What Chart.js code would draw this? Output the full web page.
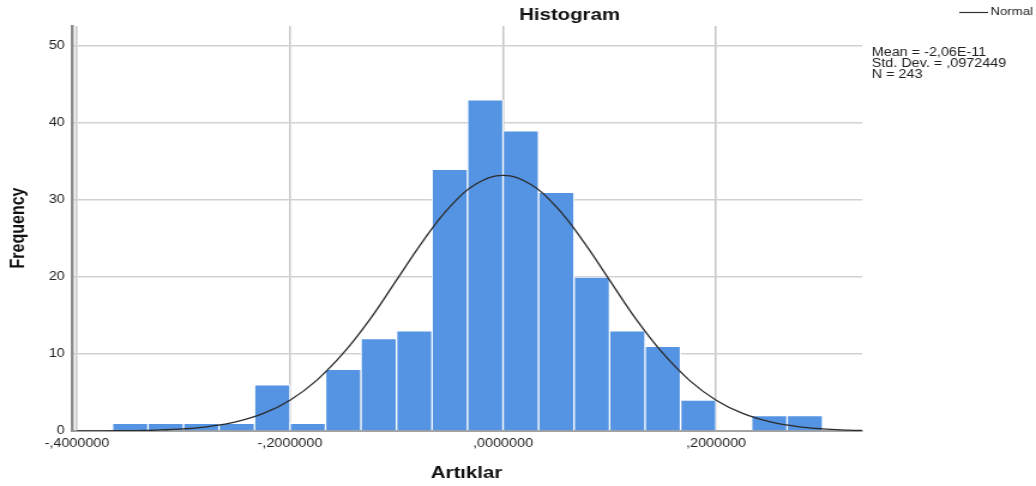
<!DOCTYPE html>
<html>
<head>
<meta charset="utf-8">
<script src="https://cdn.jsdelivr.net/npm/chart.js@4.4.0/dist/chart.umd.min.js"></script>
<style>
  html, body { margin: 0; padding: 0; background: #fff; overflow: hidden; }
  #histChart { transform: scaleX(1.19907); transform-origin: 0 0; }
</style>
</head>
<body>
<canvas id="histChart" width="864" height="486"></canvas>
<script>
// bins (centres of 1/30 wide bins) and their counts
const binCenters = [-0.35, -0.31667, -0.28333, -0.25, -0.21667, -0.18333, -0.15, -0.11667, -0.08333, -0.05,
                    -0.01667, 0.01667, 0.05, 0.08333, 0.11667, 0.15, 0.18333, 0.21667, 0.25, 0.28333]
const counts = [1, 1, 1, 1, 6, 1, 8, 12, 13, 34, 43, 39, 31, 20, 13, 11, 4, 0, 2, 2]

// normal curve
const curveX = [-0.4, -0.375, -0.35, -0.325, -0.3, -0.275, -0.25, -0.225, -0.2, -0.175, -0.15, -0.125, -0.1, -0.075, -0.05, -0.025,
                0, 0.025, 0.05, 0.075, 0.1, 0.125, 0.15, 0.175, 0.2, 0.225, 0.25, 0.275, 0.3, 0.325, 0.337]
const curveY = [0.01, 0.02, 0.05, 0.12, 0.28, 0.61, 1.22, 2.28, 4.0, 6.58, 10.1, 14.5, 19.6, 24.7, 29.1, 32.1,
                33.2, 32.1, 29.1, 24.7, 19.6, 14.5, 10.1, 6.58, 4.0, 2.28, 1.22, 0.61, 0.28, 0.12, 0.07]

const xTicks = [-0.4, -0.2, 0, 0.2]
const xTickLabels = ['-,4000000', '-,2000000', ',0000000', ',2000000']
const yTicks = [0, 10, 20, 30, 40, 50]
const statLines = ['Mean = -2,06E-11', 'Std. Dev. = ,0972449', 'N = 243']

const FONT = "'Liberation Sans', Arial, sans-serif"

const textPlugin = {
    id: 'spssText',
    afterDraw(chart) {
        const ctx = chart.ctx
        ctx.save()
        ctx.fillStyle = '#111'
        ctx.textBaseline = 'alphabetic'
        // title
        ctx.font = 'bold 17px ' + FONT
        ctx.textAlign = 'center'
        ctx.fillText('Histogram', 475, 20)
        // x title
        ctx.fillText('Artıklar', 389, 478)
        // y title
        ctx.save()
        ctx.translate(20, 228)
        ctx.rotate(-Math.PI / 2)
        ctx.font = 'bold 16px ' + FONT
        ctx.fillText('Frequency', 0, 0)
        ctx.restore()
        // legend
        ctx.strokeStyle = '#333'
        ctx.lineWidth = 1.2
        ctx.beginPath()
        ctx.moveTo(800, 12.5)
        ctx.lineTo(824, 12.5)
        ctx.stroke()
        ctx.font = '11px ' + FONT
        ctx.textAlign = 'left'
        ctx.fillStyle = '#222'
        ctx.fillText('Normal', 826, 15)
        // stats
        ctx.font = '12px ' + FONT
        statLines.forEach((t, i) => ctx.fillText(t, 727, 56 + i * 11))
        ctx.restore()
    }
}

const ctx = document.getElementById('histChart').getContext('2d')
const histChart = new Chart(ctx, {
    type: 'bar',
    data: {
        datasets: [{
            type: 'line',
            label: 'Normal',
            data: curveX.map((x, i) => ({ x: x, y: curveY[i] })),
            borderColor: '#2b2b2b',
            borderWidth: 1.3,
            pointRadius: 0,
            tension: 0.4,
            fill: false,
            order: 0
        }, {
            type: 'bar',
            label: 'Frequency',
            data: binCenters.map((x, i) => ({ x: x, y: counts[i] })),
            backgroundColor: 'rgb(85, 148, 226)',
            borderColor: '#ffffff',
            borderWidth: 1,
            barPercentage: 1,
            categoryPercentage: 1,
            order: 1
        }]
    },
    options: {
        responsive: false,
        animation: false,
        layout: { padding: { top: 26, right: 145, bottom: 0, left: 0 } },
        plugins: {
            legend: { display: false },
            tooltip: { enabled: false },
            title: { display: false }
        },
        scales: {
            x: {
                type: 'linear',
                min: -0.4047,
                max: 0.3371,
                offset: false,
                afterBuildTicks: sc => { sc.ticks = xTicks.map(v => ({ value: v })) },
                afterFit: sc => { sc.height = 55 },
                ticks: {
                    callback: (v, i) => xTickLabels[i],
                    font: { family: FONT, size: 12 },
                    color: '#222',
                    padding: 5,
                    maxRotation: 0,
                    autoSkip: false
                },
                grid: { offset: false, color: '#c6c6c6', lineWidth: 1.5, drawTicks: false },
                border: { color: '#a3a3a3', width: 2 }
            },
            y: {
                min: 0,
                max: 52.6,
                afterBuildTicks: sc => { sc.ticks = yTicks.map(v => ({ value: v })) },
                afterFit: sc => { sc.width = 60 },
                ticks: {
                    font: { family: FONT, size: 12 },
                    color: '#222',
                    padding: 6
                },
                grid: { color: '#d2d2d2', lineWidth: 1.5, drawTicks: false },
                border: { color: '#8c8c8c', width: 2.5 }
            }
        }
    },
    plugins: [textPlugin]
});
</script>
</body>
</html>
